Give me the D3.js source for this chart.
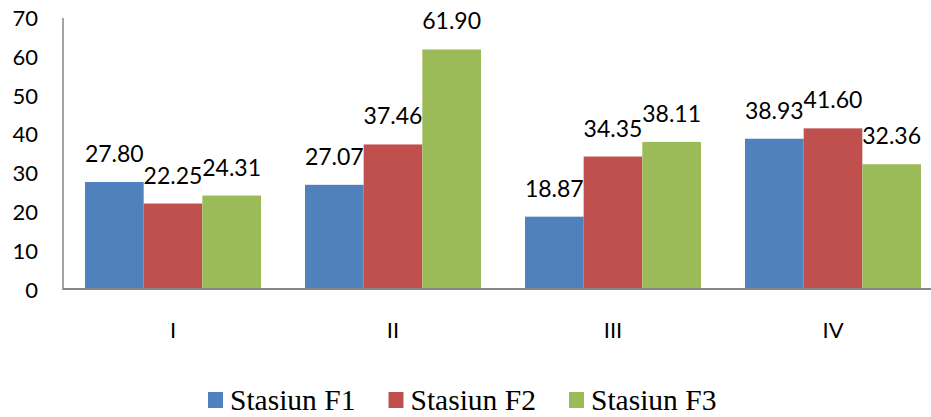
<!DOCTYPE html>
<html>
<head>
<meta charset="utf-8">
<script src="https://cdn.jsdelivr.net/npm/d3@7"></script>
<style>
  html, body { margin: 0; padding: 0; background: #ffffff; }
  svg { display: block; }
</style>
</head>
<body>
<div id="chart"></div>
<script>
// Station values per period
const categories = ["I", "II", "III", "IV"];
const seriesNames = ["Stasiun F1", "Stasiun F2", "Stasiun F3"];
const stasiunF1 = [27.80, 27.07, 18.87, 38.93];
const stasiunF2 = [22.25, 37.46, 34.35, 41.60];
const stasiunF3 = [24.31, 61.90, 38.11, 32.36];
const yTicks = [0, 10, 20, 30, 40, 50, 60, 70];
const colors = ["#4F81BD", "#C0504D", "#9BBB59"];

const seriesValues = [stasiunF1, stasiunF2, stasiunF3];
const rows = categories.map((c, i) => ({
  category: c,
  values: seriesNames.map((s, k) => ({ key: s, idx: k, value: seriesValues[k][i] }))
}));

const W = 931, H = 417;
const plot = { left: 63, right: 943, top: 18, bottom: 290 };

const svg = d3.select("#chart").append("svg")
  .attr("width", W).attr("height", H);

const x0 = d3.scaleBand().domain(categories)
  .range([plot.left, plot.right]).paddingInner(0).paddingOuter(0);
const x1 = d3.scaleBand().domain(seriesNames)
  .range([22, x0.bandwidth() - 22]).padding(0);
const y = d3.scaleLinear().domain([0, 70]).range([plot.bottom, plot.top]);

const labelFont = "Lato, 'Open Sans', sans-serif";

// Y axis labels
svg.append("g").selectAll("text").data(yTicks).join("text")
  .attr("x", 38).attr("y", d => y(d))
  .attr("dy", "0.36em")
  .attr("text-anchor", "end")
  .attr("font-family", labelFont).attr("font-size", 22)
  .attr("fill", "#000").text(d => d);

// Bars
const groups = svg.append("g").selectAll("g").data(rows).join("g")
  .attr("transform", d => `translate(${x0(d.category)},0)`);

groups.selectAll("rect").data(d => d.values).join("rect")
  .attr("x", d => x1(d.key))
  .attr("y", d => y(d.value))
  .attr("width", x1.bandwidth())
  .attr("height", d => y(0) - y(d.value))
  .attr("fill", d => colors[d.idx]);

// Value labels
groups.selectAll("text").data(d => d.values).join("text")
  .attr("x", d => x1(d.key) + x1.bandwidth() / 2)
  .attr("y", d => y(d.value) - 20)
  .attr("text-anchor", "middle")
  .attr("font-family", labelFont).attr("font-size", 23)
  .attr("fill", "#000")
  .text(d => d.value.toFixed(2));

// Axis lines
svg.append("line")
  .attr("x1", plot.left).attr("x2", plot.left)
  .attr("y1", plot.top).attr("y2", plot.bottom)
  .attr("stroke", "#868686").attr("stroke-width", 1.5);
svg.append("line")
  .attr("x1", plot.left).attr("x2", plot.right)
  .attr("y1", plot.bottom - 1).attr("y2", plot.bottom - 1)
  .attr("stroke", "#868686").attr("stroke-width", 2);

// Category labels
svg.append("g").selectAll("text").data(categories).join("text")
  .attr("x", d => x0(d) + x0.bandwidth() / 2)
  .attr("y", 338)
  .attr("text-anchor", "middle")
  .attr("font-family", labelFont).attr("font-size", 22)
  .attr("fill", "#000").text(d => d);

// Legend
const legend = svg.append("g").selectAll("g").data(seriesNames).join("g")
  .attr("transform", (d, i) => `translate(${208 + i * 180.5},392)`);
legend.append("rect")
  .attr("width", 15).attr("height", 16)
  .attr("fill", (d, i) => colors[i]);
legend.append("text")
  .attr("x", 22).attr("y", 18)
  .attr("font-family", "'Liberation Serif', 'Times New Roman', serif")
  .attr("font-size", 29.5).attr("fill", "#000")
  .text(d => d);
</script>
</body>
</html>
